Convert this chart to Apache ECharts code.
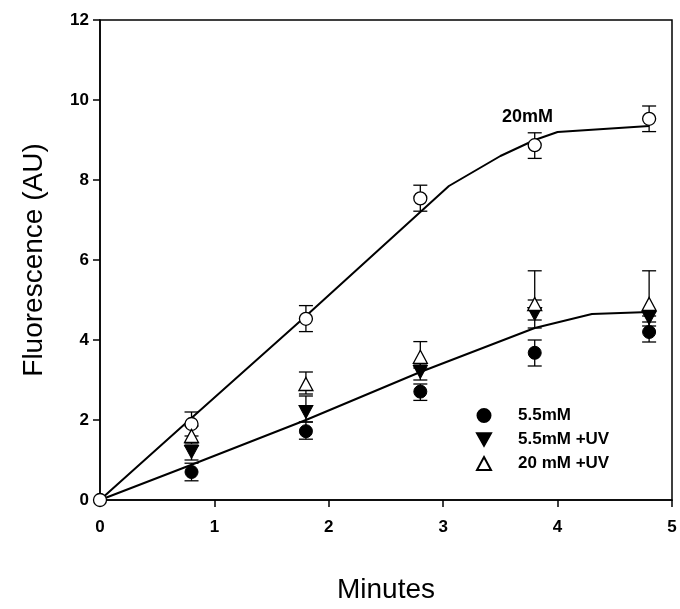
<!DOCTYPE html>
<html>
<head>
<meta charset="utf-8">
<script src="https://cdn.jsdelivr.net/npm/echarts@6/dist/echarts.min.js"></script>
<style>
  html, body { margin: 0; padding: 0; background: #fff; }
  #main { width: 680px; height: 609px; }
</style>
</head>
<body>
<div id="main"></div>
<script>
// time points (minutes)
var minutes = [0.8, 1.8, 2.8, 3.8, 4.8];

// 20mM, open circles
var c20 = [1.9, 4.53, 7.54, 8.87, 9.53];
var c20Hi = [2.2, 4.86, 7.87, 9.18, 9.85];
var c20Lo = [1.6, 4.21, 7.22, 8.54, 9.21];

// 5.5mM, filled circles
var c55 = [0.7, 1.72, 2.71, 3.68, 4.2];
var c55Hi = [0.92, 1.95, 2.9, 4.0, 4.45];
var c55Lo = [0.48, 1.52, 2.49, 3.35, 3.95];

// 5.5mM +UV, filled down triangles
var c55uv = [1.2, 2.2, 3.2, 4.65, 4.55];
var c55uvHi = [1.35, 2.6, 3.4, 5.0, 4.7];
var c55uvLo = [1.0, 1.95, 3.0, 4.3, 4.35];

// 20 mM +UV, open up triangles
var c20uv = [1.6, 2.9, 3.58, 4.9, 4.9];
var c20uvHi = [1.85, 3.2, 3.96, 5.73, 5.73];
var c20uvLo = [1.4, 2.65, 3.3, 4.5, 4.6];

// fitted curves
var fitHighX = [0, 0.8, 1.8, 2.8, 3.05, 3.5, 3.8, 4.0, 4.8];
var fitHighY = [0, 2.05, 4.6, 7.2, 7.85, 8.6, 9.0, 9.2, 9.35];
var fitLowX = [0, 0.8, 1.8, 2.8, 3.8, 4.3, 4.8];
var fitLowY = [0, 0.88, 2.0, 3.2, 4.3, 4.65, 4.7];

var font = '"Liberation Sans", Arial, sans-serif';

function pairs(xs, ys) {
  return xs.map(function (x, i) { return [x, ys[i]]; });
}
function errData(lo, hi) {
  return minutes.map(function (x, i) { return [x, lo[i], hi[i]]; });
}

// vertical error bar with caps
function renderErr(params, api) {
  var top = api.coord([api.value(0), api.value(2)]);
  var bot = api.coord([api.value(0), api.value(1)]);
  var w = 7;
  var st = { stroke: '#000', lineWidth: 1.3 };
  return {
    type: 'group',
    children: [
      { type: 'line', shape: { x1: top[0], y1: top[1], x2: bot[0], y2: bot[1] }, style: st },
      { type: 'line', shape: { x1: top[0] - w, y1: top[1], x2: top[0] + w, y2: top[1] }, style: st },
      { type: 'line', shape: { x1: bot[0] - w, y1: bot[1], x2: bot[0] + w, y2: bot[1] }, style: st }
    ]
  };
}
function errSeries(lo, hi) {
  return {
    type: 'custom',
    renderItem: renderErr,
    data: errData(lo, hi),
    encode: { x: 0, y: [1, 2] },
    silent: true,
    z: 1
  };
}

var downTri = 'path://M0,0 L10,0 L5,9 Z';

var myChart = echarts.init(document.getElementById('main'));

var option = {
  animation: false,
  backgroundColor: '#fff',
  grid: {
    left: 100, right: 8, top: 20, bottom: 106,
    show: true, borderColor: '#000', borderWidth: 1.5, backgroundColor: 'transparent'
  },
  legend: {
    orient: 'vertical',
    left: 471, top: 402,
    itemGap: 7,
    itemWidth: 14, itemHeight: 13,
    data: ['5.5mM', '5.5mM +UV', '20 mM +UV'],
    textStyle: { fontFamily: font, fontWeight: 'bold', fontSize: 17, color: '#000', padding: [0, 0, 0, 22] }
  },
  xAxis: {
    type: 'value',
    min: 0, max: 5, interval: 1,
    name: 'Minutes',
    nameLocation: 'middle',
    nameGap: 76,
    nameTextStyle: { fontFamily: font, fontSize: 28, color: '#000' },
    axisLine: { lineStyle: { color: '#000', width: 1.5 } },
    axisTick: { inside: false, length: 7, lineStyle: { color: '#000', width: 1.5 } },
    axisLabel: { fontFamily: font, fontWeight: 'bold', fontSize: 17, color: '#000', margin: 19 },
    splitLine: { show: false }
  },
  yAxis: {
    type: 'value',
    min: 0, max: 12, interval: 2,
    name: 'Fluorescence (AU)',
    nameLocation: 'middle',
    nameGap: 52,
    nameTextStyle: { fontFamily: font, fontSize: 28, color: '#000' },
    axisLine: { lineStyle: { color: '#000', width: 1.5 } },
    axisTick: { inside: false, length: 7, lineStyle: { color: '#000', width: 1.5 } },
    axisLabel: { fontFamily: font, fontWeight: 'bold', fontSize: 17, color: '#000', margin: 11 },
    splitLine: { show: false }
  },
  graphic: [
    { type: 'text', left: 502, top: 108,
      style: { text: '20mM', fontFamily: font, fontWeight: 'bold', fontSize: 18, fill: '#000' } }
  ],
  series: [
    errSeries(c20Lo, c20Hi),
    errSeries(c55Lo, c55Hi),
    errSeries(c55uvLo, c55uvHi),
    errSeries(c20uvLo, c20uvHi),
    {
      type: 'line', data: pairs(fitHighX, fitHighY), showSymbol: false, silent: true,
      lineStyle: { color: '#000', width: 2 }, z: 2
    },
    {
      type: 'line', data: pairs(fitLowX, fitLowY), showSymbol: false, silent: true,
      lineStyle: { color: '#000', width: 2 }, z: 2
    },
    {
      name: '20mM', type: 'scatter', data: [[0, 0]].concat(pairs(minutes, c20)),
      symbol: 'circle', symbolSize: 13, clip: false,
      itemStyle: { color: '#fff', borderColor: '#000', borderWidth: 1.3, opacity: 1 }, z: 3
    },
    {
      name: '5.5mM', type: 'scatter', data: pairs(minutes, c55),
      symbol: 'circle', symbolSize: 13,
      itemStyle: { color: '#000', borderColor: '#000', borderWidth: 1, opacity: 1 }, z: 3
    },
    {
      name: '5.5mM +UV', type: 'scatter', data: pairs(minutes, c55uv),
      symbol: downTri, symbolSize: [14, 13],
      itemStyle: { color: '#000', borderColor: '#000', borderWidth: 1, opacity: 1 }, z: 3
    },
    {
      name: '20 mM +UV', type: 'scatter', data: pairs(minutes, c20uv),
      symbol: 'triangle', symbolSize: [14, 13],
      itemStyle: { color: '#fff', borderColor: '#000', borderWidth: 1.3, opacity: 1 }, z: 3
    }
  ]
};

myChart.setOption(option);
</script>
</body>
</html>
